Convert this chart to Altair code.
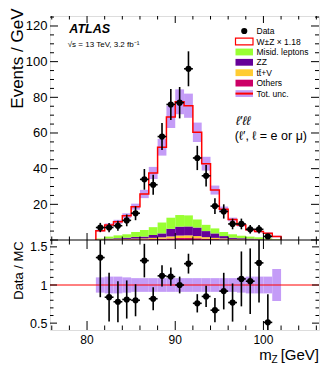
import altair as alt
import pandas as pd
import numpy as np

# ---------------- data ----------------
bin_edges = [81, 82, 83, 84, 85, 86, 87, 88, 89, 90, 91, 92, 93, 94, 95, 96, 97, 98, 99, 100, 101, 102]
mc_total = [5.2, 8.4, 10.2, 13.6, 18.7, 25.8, 37.6, 52.0, 69.0, 77.5, 75.3, 60.4, 42.8, 28.0, 17.2, 11.5, 8.4, 5.7, 4.7, 3.8, 2.0]
rel_unc = [0.10, 0.11, 0.11, 0.10, 0.09, 0.09, 0.09, 0.09, 0.09, 0.09, 0.09, 0.09, 0.09, 0.09, 0.09, 0.09, 0.10, 0.11, 0.11, 0.11, 0.21]
bkg_others = [0.1, 0.2, 0.2, 0.3, 0.4, 0.4, 0.5, 0.7, 0.9, 1.1, 1.1, 1.0, 0.7, 0.5, 0.4, 0.3, 0.2, 0.15, 0.1, 0.1, 0.05]
bkg_ttv = [0.1, 0.2, 0.3, 0.3, 0.4, 0.5, 0.7, 0.8, 1.1, 1.4, 1.5, 1.2, 0.9, 0.7, 0.5, 0.3, 0.2, 0.15, 0.2, 0.1, 0.05]
bkg_zz = [0.2, 0.4, 0.5, 0.7, 0.9, 1.0, 1.6, 2.2, 4.3, 5.0, 5.0, 4.8, 3.4, 2.5, 1.3, 0.7, 0.6, 0.5, 0.3, 0.2, 0.1]
bkg_misid = [0.4, 1.1, 1.6, 1.9, 2.8, 3.7, 4.4, 6.1, 6.2, 6.5, 6.2, 4.5, 3.5, 2.8, 2.3, 1.9, 1.4, 1.1, 0.9, 0.5, 0.3]

data_x = [81.5, 82.5, 83.5, 84.5, 85.5, 86.5, 87.5, 88.5, 89.5, 90.5, 91.5, 92.5, 93.5, 94.5, 95.5, 96.5, 97.5, 98.5, 99.5, 100.5]
data_y = [7, 7, 8, 11, 15, 34, 31, 58, 76, 77, 96, 46, 36, 19, 16, 9, 9, 6, 6, 2]
data_err = [2.6, 2.6, 2.8, 3.3, 3.9, 5.8, 5.6, 7.6, 8.7, 8.8, 9.8, 6.8, 6.0, 4.4, 4.0, 3.0, 3.0, 2.4, 2.4, 1.4]
ratio_y = [1.36, 0.84, 0.78, 0.81, 0.80, 1.32, 0.82, 1.12, 1.11, 1.00, 1.28, 0.76, 0.85, 0.67, 0.92, 0.77, 1.08, 1.05, 1.29, 0.51]
ratio_err = [0.52, 0.32, 0.27, 0.25, 0.21, 0.22, 0.15, 0.14, 0.12, 0.11, 0.13, 0.12, 0.14, 0.16, 0.24, 0.25, 0.36, 0.43, 0.52, 0.37]

components = ["Others", "tt+V", "ZZ", "Misid. leptons"]
comp_colors = ["#cc0066", "#ffcc33", "#660099", "#99ff33"]

x_major = [80, 90, 100]
y_up_major = [0, 20, 40, 60, 80, 100, 120]
y_lo_major = [0.5, 1.0, 1.5]

# ---------------- layout ----------------
W, H1, H2 = 269, 224, 90
HT = H1 + H2
FONT = "Liberation Sans"
UNC = "#c49cf7"
RED = "#ff0000"

X_DOM = [75.8, 106.3]
UP_DOM = [0, 125.6]
LO_DOM = [0.41, 1.59]

xs = alt.Scale(domain=X_DOM, nice=False, zero=False)
ys_up = alt.Scale(domain=UP_DOM, range=[H1, 0], nice=False, zero=False)
ys_lo = alt.Scale(domain=LO_DOM, range=[HT, H1], nice=False, zero=False)

x_minor = [v for v in range(76, 107, 2) if v not in x_major]
y_up_minor = [v for v in range(0, 126, 5) if v not in y_up_major]
y_lo_minor = [round(v, 2) for v in np.arange(0.5, 1.55, 0.1) if min(abs(v - m) for m in y_lo_major) > 1e-6]

dummy = pd.DataFrame({"a": [0]})

# ---------------- tables ----------------
bins = pd.DataFrame({"lo": bin_edges[:-1], "hi": bin_edges[1:], "mc": mc_total, "rel": rel_unc})
bins["mc_lo"] = bins["mc"] * (1 - bins["rel"])
bins["mc_hi"] = bins["mc"] * (1 + bins["rel"])
bins["r_lo"] = 1 - bins["rel"]
bins["r_hi"] = 1 + bins["rel"]

rows = []
for i in range(len(bin_edges) - 1):
    base = 0.0
    for name, vals in zip(components, [bkg_others, bkg_ttv, bkg_zz, bkg_misid]):
        rows.append({"lo": bin_edges[i], "hi": bin_edges[i + 1], "comp": name,
                     "y0": base, "y1": base + vals[i]})
        base += vals[i]
stack = pd.DataFrame(rows)

step = pd.DataFrame({
    "x": [bin_edges[0]] + bin_edges[:-1] + [bin_edges[-1], bin_edges[-1]],
    "y": [0] + mc_total + [mc_total[-1], 0],
})
step["i"] = range(len(step))

pts = pd.DataFrame({"x": data_x, "y": data_y, "e": data_err, "r": ratio_y, "re": ratio_err})
pts["y_lo"] = pts["y"] - pts["e"]
pts["y_hi"] = pts["y"] + pts["e"]
# ratio error bars are cut at the edges of the lower frame
pts["r_lo"] = (pts["r"] - pts["re"]).clip(LO_DOM[0], LO_DOM[1])
pts["r_hi"] = (pts["r"] + pts["re"]).clip(LO_DOM[0], LO_DOM[1])
pts["x_lo"] = pts["x"] - 0.5
pts["x_hi"] = pts["x"] + 0.5

xlab = pd.DataFrame({"v": x_major})


def tick_rules(vals, axis, y0, y1=None, scale=None, x0=None, x1=None):
    df = pd.DataFrame({"v": vals})
    base = alt.Chart(df).mark_rule(color="black", strokeWidth=1)
    if axis == "x":
        return base.encode(x=alt.X("v:Q", scale=xs, axis=None), y=alt.value(y0), y2=alt.value(y1))
    return base.encode(y=alt.Y("v:Q", scale=scale, axis=None), x=alt.value(x0), x2=alt.value(x1))


def text(label, x, y, size, align="left", baseline="alphabetic", style="normal", weight="normal"):
    return alt.Chart(dummy).mark_text(
        text=label, align=align, baseline=baseline, fontSize=size,
        fontStyle=style, fontWeight=weight, font=FONT, color="black",
    ).encode(x=alt.value(x), y=alt.value(y))


# ---------------- upper panel ----------------
stack_layer = alt.Chart(stack).mark_rect().encode(
    x=alt.X("lo:Q", scale=xs, axis=None),
    x2="hi:Q",
    y=alt.Y("y0:Q", scale=ys_up, axis=alt.Axis(
        orient="left", values=y_up_major[1:], ticks=False, domain=False, grid=False,
        labelFontSize=13, labelPadding=3, labelColor="black", labelFont=FONT,
        title="Events / GeV", titleFontSize=17, titleFontWeight="normal",
        titleFont=FONT, titleColor="black", titleAngle=270,
        titleX=-28, titleY=-8, titleAlign="right", titleBaseline="alphabetic")),
    y2="y1:Q",
    color=alt.Color("comp:N", scale=alt.Scale(domain=components, range=comp_colors), legend=None),
)

band_up = alt.Chart(bins).mark_rect(color=UNC).encode(
    x=alt.X("lo:Q", scale=xs, axis=None), x2="hi:Q",
    y=alt.Y("mc_lo:Q", scale=ys_up, axis=None), y2="mc_hi:Q",
)

step_line = alt.Chart(step).mark_line(interpolate="step-after", color=RED, strokeWidth=1.5).encode(
    x=alt.X("x:Q", scale=xs, axis=None),
    y=alt.Y("y:Q", scale=ys_up, axis=None),
    order="i:Q",
)

err_v = alt.Chart(pts).mark_rule(color="black", strokeWidth=1.6).encode(
    x=alt.X("x:Q", scale=xs, axis=None),
    y=alt.Y("y_lo:Q", scale=ys_up, axis=None), y2="y_hi:Q",
)
err_h = alt.Chart(pts).mark_rule(color="black", strokeWidth=1.6).encode(
    x=alt.X("x_lo:Q", scale=xs, axis=None), x2="x_hi:Q",
    y=alt.Y("y:Q", scale=ys_up, axis=None),
)
dots = alt.Chart(pts).mark_point(filled=True, shape="circle", size=38, color="black", opacity=1).encode(
    x=alt.X("x:Q", scale=xs, axis=None),
    y=alt.Y("y:Q", scale=ys_up, axis=None),
)

# legend (drawn by hand, inside the frame)
LX0, LX1, LT = 185.5, 203, 206.5
rows_y = [15, 25.5, 36, 46.3, 56.7, 67.1, 77.6]
leg = []
leg.append(alt.Chart(dummy).mark_point(filled=True, shape="circle", size=38, color="black", opacity=1)
           .encode(x=alt.value((LX0 + LX1) / 2), y=alt.value(rows_y[0])))
leg.append(alt.Chart(dummy).mark_rect(fill="white", stroke=RED, strokeWidth=1.2)
           .encode(x=alt.value(LX0), x2=alt.value(LX1), y=alt.value(rows_y[1] - 3.4), y2=alt.value(rows_y[1] + 3.4)))
for k, col in zip([2, 3, 4, 5], ["#99ff33", "#660099", "#ffcc33", "#cc0066"]):
    leg.append(alt.Chart(dummy).mark_rect(fill=col)
               .encode(x=alt.value(LX0), x2=alt.value(LX1), y=alt.value(rows_y[k] - 3.4), y2=alt.value(rows_y[k] + 3.4)))
leg.append(alt.Chart(dummy).mark_rect(fill=UNC)
           .encode(x=alt.value(LX0), x2=alt.value(LX1), y=alt.value(rows_y[6] - 3.4), y2=alt.value(rows_y[6] + 3.4)))
leg.append(alt.Chart(dummy).mark_rule(color=RED, strokeWidth=2)
           .encode(x=alt.value(LX0), x2=alt.value(LX1), y=alt.value(rows_y[6])))
leg_labels = ["Data", "W\u00b1Z \u00d7 1.18", "Misid. leptons", "ZZ", "tt\u0304+V", "Others", "Tot. unc."]
for lab, yy in zip(leg_labels, rows_y):
    leg.append(text(lab, LT, yy, 8.5, baseline="middle"))

annot = [
    text("ATLAS", 19.3, 17.3, 12.5, style="italic", weight="bold"),
    text("\u221as = 13 TeV, 3.2 fb\u207b\u00b9", 17.7, 30.5, 8),
    text("\u2113\u2032\u2113\u2113", 193, 108.5, 12.5, align="center", style="italic"),
    text("(\u2113\u2032, \u2113 = e or \u03bc)", 257, 124, 12.5, align="right"),
]

# ---------------- lower panel ----------------
band_lo = alt.Chart(bins).mark_rect(color=UNC).encode(
    x=alt.X("lo:Q", scale=xs, axis=None),
    x2="hi:Q",
    y=alt.Y("r_lo:Q", scale=ys_lo, axis=alt.Axis(
        orient="left", values=y_lo_major, format="~g", ticks=False, domain=False, grid=False,
        labelFontSize=12.5, labelPadding=3, labelColor="black", labelFont=FONT,
        title="Data / MC", titleFontSize=13, titleFontWeight="normal",
        titleFont=FONT, titleColor="black", titleAngle=270,
        titleX=-28, titleY=H1 + 30, titleAlign="center", titleBaseline="alphabetic")),
    y2="r_hi:Q",
)
one_line = alt.Chart(dummy).mark_rule(color=RED, strokeWidth=1).encode(
    y=alt.datum(1.0, scale=ys_lo, axis=None)
)
rerr_v = alt.Chart(pts).mark_rule(color="black", strokeWidth=1.6).encode(
    x=alt.X("x:Q", scale=xs, axis=None),
    y=alt.Y("r_lo:Q", scale=ys_lo, axis=None), y2="r_hi:Q",
)
rerr_h = alt.Chart(pts).mark_rule(color="black", strokeWidth=1.6).encode(
    x=alt.X("x_lo:Q", scale=xs, axis=None), x2="x_hi:Q",
    y=alt.Y("r:Q", scale=ys_lo, axis=None),
)
rdots = alt.Chart(pts).mark_point(filled=True, shape="circle", size=38, color="black", opacity=1).encode(
    x=alt.X("x:Q", scale=xs, axis=None),
    y=alt.Y("r:Q", scale=ys_lo, axis=None),
)

# x-axis tick labels, placed through the x scale
x_labels = alt.Chart(xlab).mark_text(
    baseline="top", align="center", fontSize=12, font=FONT, color="black"
).encode(x=alt.X("v:Q", scale=xs, axis=None), y=alt.value(HT + 5), text="v:Q")

xtitle = [
    text("m", 209.3, H1 + 119.5, 15),
    text("Z", 221.5, H1 + 123, 10),
    text("[GeV]", 269, H1 + 119.5, 15, align="right"),
]

separator = alt.Chart(dummy).mark_rule(color="black", strokeWidth=1.2).encode(
    x=alt.value(0), x2=alt.value(W), y=alt.value(H1)
)

ticks = [
    # upper panel
    tick_rules(x_major, "x", 0, 7), tick_rules(x_minor, "x", 0, 3.5),
    tick_rules(x_major, "x", H1 - 7, H1), tick_rules(x_minor, "x", H1 - 3.5, H1),
    tick_rules(y_up_major, "y", None, scale=ys_up, x0=0, x1=8),
    tick_rules(y_up_minor, "y", None, scale=ys_up, x0=0, x1=4),
    tick_rules(y_up_major, "y", None, scale=ys_up, x0=W - 8, x1=W),
    tick_rules(y_up_minor, "y", None, scale=ys_up, x0=W - 4, x1=W),
    # lower panel
    tick_rules(x_major, "x", H1, H1 + 9), tick_rules(x_minor, "x", H1, H1 + 4.5),
    tick_rules(x_major, "x", HT - 9, HT), tick_rules(x_minor, "x", HT - 4.5, HT),
    tick_rules(y_lo_major, "y", None, scale=ys_lo, x0=0, x1=7),
    tick_rules(y_lo_minor, "y", None, scale=ys_lo, x0=0, x1=3.5),
    tick_rules(y_lo_major, "y", None, scale=ys_lo, x0=W - 7, x1=W),
    tick_rules(y_lo_minor, "y", None, scale=ys_lo, x0=W - 3.5, x1=W),
]

chart = alt.layer(
    stack_layer, band_up, step_line, err_v, err_h, dots, *leg, *annot,
    band_lo, one_line, rerr_v, rerr_h, rdots, x_labels, *xtitle, separator, *ticks
).resolve_scale(y="independent").resolve_axis(y="independent").properties(
    width=W, height=HT, padding={"left": 0, "top": 0, "right": 2, "bottom": 0}
).configure_view(stroke="black", strokeWidth=1.2).configure(font=FONT)

chart.save("out.html", embed_options={"renderer": "svg", "actions": False})
